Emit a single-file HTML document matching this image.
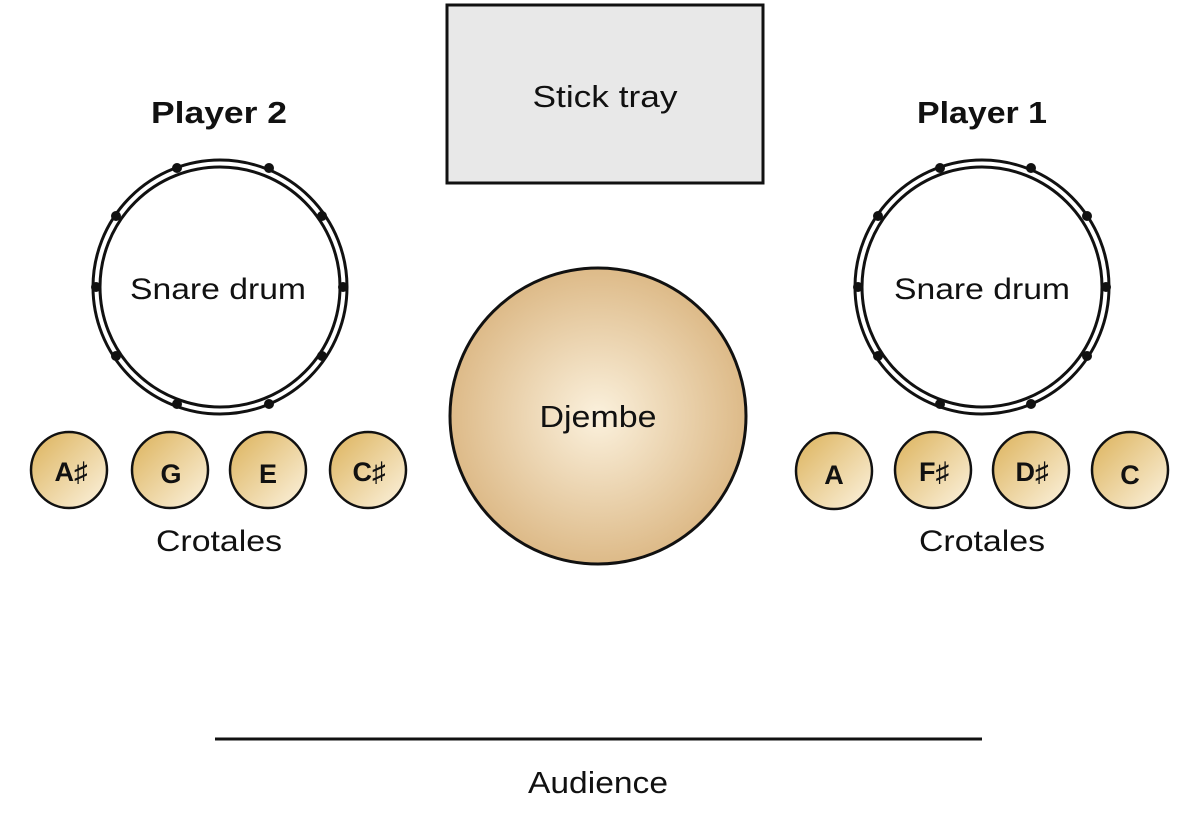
<!DOCTYPE html>
<html><head><style>
html,body{margin:0;padding:0;background:#fff;}
svg{display:block;}
text{font-family:"Liberation Sans",sans-serif;fill:#111;text-anchor:middle;}
</style></head><body>
<svg width="1200" height="819" viewBox="0 0 1200 819">
<defs>
<radialGradient id="dj" cx="50%" cy="50%" r="50%">
<stop offset="0" stop-color="#fbf1dd"/><stop offset="1" stop-color="#ddba88"/>
</radialGradient>
<linearGradient id="cr" x1="0" y1="0" x2="1" y2="1">
<stop offset="0" stop-color="#dcb25a"/><stop offset="1" stop-color="#fcf3e0"/>
</linearGradient>
</defs>
<rect x="447" y="5" width="316" height="178" fill="#e8e8e8" stroke="#111" stroke-width="3"/>
<text x="605" y="107" font-size="31" textLength="145" lengthAdjust="spacingAndGlyphs">Stick tray</text>
<text x="219" y="123" font-size="31" font-weight="bold" textLength="136" lengthAdjust="spacingAndGlyphs">Player 2</text>
<text x="982" y="123" font-size="31" font-weight="bold" textLength="130" lengthAdjust="spacingAndGlyphs">Player 1</text>
<g fill="none" stroke="#111" stroke-width="3">
<circle cx="220" cy="287" r="127"/><circle cx="220" cy="287" r="120"/>
<circle cx="982" cy="287" r="127"/><circle cx="982" cy="287" r="120"/>
</g>
<g fill="#111">
<circle cx="177" cy="168" r="5"/><circle cx="269" cy="168" r="5"/><circle cx="116" cy="216" r="5"/><circle cx="322" cy="216" r="5"/><circle cx="96" cy="287" r="5"/><circle cx="343" cy="287" r="5"/><circle cx="116" cy="356" r="5"/><circle cx="322" cy="356" r="5"/><circle cx="177" cy="404" r="5"/><circle cx="269" cy="404" r="5"/>
<circle cx="940" cy="168" r="5"/><circle cx="1031" cy="168" r="5"/><circle cx="878" cy="216" r="5"/><circle cx="1087" cy="216" r="5"/><circle cx="858" cy="287" r="5"/><circle cx="1106" cy="287" r="5"/><circle cx="878" cy="356" r="5"/><circle cx="1087" cy="356" r="5"/><circle cx="940" cy="404" r="5"/><circle cx="1031" cy="404" r="5"/>
</g>
<text x="218" y="299" font-size="30" textLength="176" lengthAdjust="spacingAndGlyphs">Snare drum</text>
<text x="982" y="299" font-size="30" textLength="176" lengthAdjust="spacingAndGlyphs">Snare drum</text>
<circle cx="598" cy="416" r="148" fill="url(#dj)" stroke="#111" stroke-width="3"/>
<text x="598" y="427" font-size="31" textLength="117" lengthAdjust="spacingAndGlyphs">Djembe</text>
<g stroke="#111" stroke-width="2.5" fill="url(#cr)">
<circle cx="69" cy="470" r="38"/><circle cx="170" cy="470" r="38"/><circle cx="268" cy="470" r="38"/><circle cx="368" cy="470" r="38"/>
<circle cx="834" cy="471" r="38"/><circle cx="933" cy="470" r="38"/><circle cx="1031" cy="470" r="38"/><circle cx="1130" cy="470" r="38"/>
</g>
<g font-size="27" font-weight="bold">
<text x="71" y="481">A♯</text><text x="171" y="483">G</text><text x="268" y="483">E</text><text x="369" y="481">C♯</text>
<text x="834" y="484">A</text><text x="934" y="481">F♯</text><text x="1032" y="481">D♯</text><text x="1130" y="484">C</text>
</g>
<text x="219" y="551" font-size="30" textLength="126" lengthAdjust="spacingAndGlyphs">Crotales</text>
<text x="982" y="551" font-size="30" textLength="126" lengthAdjust="spacingAndGlyphs">Crotales</text>
<line x1="215" y1="739" x2="982" y2="739" stroke="#111" stroke-width="3"/>
<text x="598" y="793" font-size="31" textLength="140" lengthAdjust="spacingAndGlyphs">Audience</text>
</svg>
</body></html>
